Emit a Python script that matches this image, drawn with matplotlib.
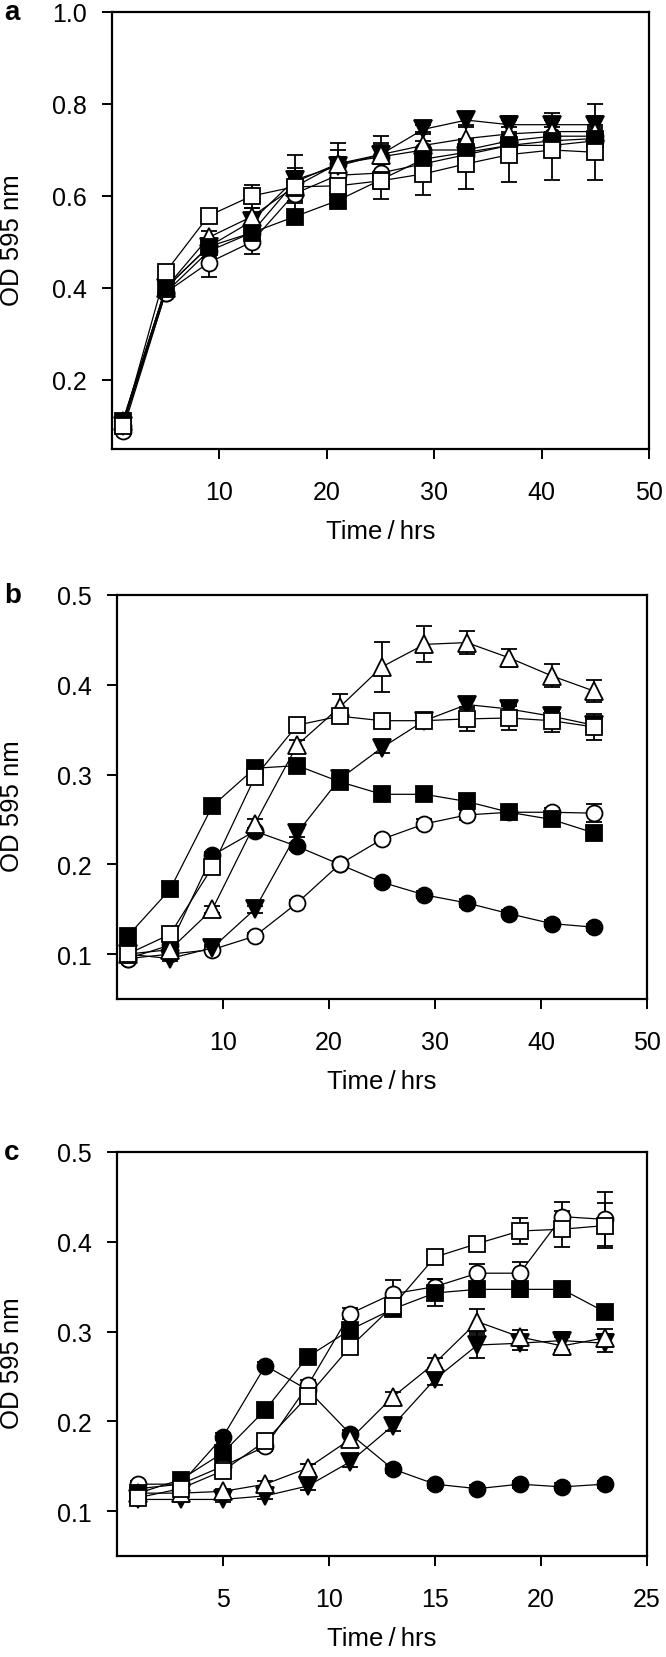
import matplotlib
matplotlib.use("Agg")
import matplotlib.pyplot as plt

plt.rcParams['font.family'] = ['Liberation Sans', 'DejaVu Sans']

# time points (hours)
time_ab = [1, 5, 9, 13, 17, 21, 25, 29, 33, 37, 41, 45]
time_c = [1, 3, 5, 7, 9, 11, 13, 15, 17, 19, 21, 23]

# panel a
a_fcircle = [0.10, 0.39, 0.48, 0.52, 0.63, 0.67, 0.685, 0.70, 0.70, 0.72, 0.73, 0.73]
a_ocircle = [0.09, 0.39, 0.455, 0.50, 0.605, 0.645, 0.65, 0.67, 0.69, 0.71, 0.71, 0.72]
a_ftri = [0.10, 0.40, 0.49, 0.545, 0.635, 0.665, 0.69, 0.745, 0.765, 0.755, 0.755, 0.755]
a_otri = [0.11, 0.40, 0.51, 0.555, 0.62, 0.67, 0.69, 0.71, 0.725, 0.735, 0.74, 0.74]
a_fsquare = [0.11, 0.40, 0.49, 0.52, 0.555, 0.59, 0.635, 0.68, 0.695, 0.71, 0.72, 0.725]
a_osquare = [0.10, 0.435, 0.557, 0.60, 0.62, 0.622, 0.633, 0.648, 0.67, 0.69, 0.70, 0.695]
a_err = [
    [0.005, 0.01, 0.015, 0.02, 0.03, 0.03, 0.03, 0.02, 0.02, 0.02, 0.02, 0.02],
    [0.005, 0.01, 0.03, 0.025, 0.02, 0.02, 0.02, 0.02, 0.02, 0.02, 0.02, 0.02],
    [0.005, 0.01, 0.01, 0.015, 0.02, 0.02, 0.02, 0.01, 0.015, 0.02, 0.025, 0.045],
    [0.005, 0.01, 0.015, 0.02, 0.07, 0.045, 0.04, 0.03, 0.03, 0.03, 0.03, 0.035],
    [0.005, 0.01, 0.01, 0.01, 0.015, 0.01, 0.02, 0.02, 0.02, 0.02, 0.02, 0.02],
    [0.005, 0.01, 0.01, 0.025, 0.03, 0.03, 0.04, 0.045, 0.055, 0.06, 0.065, 0.06],
]

# panel b
b_fcircle = [0.095, 0.11, 0.21, 0.237, 0.22, 0.20, 0.18, 0.166, 0.157, 0.145, 0.134, 0.13]
b_ocircle = [0.095, 0.10, 0.105, 0.12, 0.157, 0.20, 0.228, 0.245, 0.255, 0.258, 0.258, 0.257]
b_ftri = [0.10, 0.095, 0.107, 0.15, 0.235, 0.295, 0.33, 0.36, 0.378, 0.373, 0.365, 0.355]
b_otri = [0.10, 0.105, 0.15, 0.245, 0.333, 0.375, 0.42, 0.445, 0.447, 0.43, 0.41, 0.393]
b_fsquare = [0.12, 0.172, 0.265, 0.307, 0.31, 0.292, 0.278, 0.278, 0.27, 0.258, 0.25, 0.235]
b_osquare = [0.10, 0.122, 0.197, 0.297, 0.355, 0.365, 0.36, 0.36, 0.362, 0.363, 0.36, 0.353]
b_err = [
    [0.004] * 12,
    [0.003, 0.003, 0.003, 0.003, 0.003, 0.003, 0.004, 0.005, 0.006, 0.005, 0.005, 0.01],
    [0.003, 0.003, 0.003, 0.004, 0.005, 0.005, 0.006, 0.005, 0.005, 0.005, 0.006, 0.006],
    [0.003, 0.003, 0.004, 0.005, 0.006, 0.015, 0.028, 0.02, 0.013, 0.01, 0.013, 0.012],
    [0.004, 0.005, 0.005, 0.004, 0.005, 0.005, 0.004, 0.004, 0.005, 0.004, 0.005, 0.005],
    [0.003, 0.004, 0.005, 0.005, 0.004, 0.007, 0.005, 0.004, 0.013, 0.013, 0.013, 0.015],
]

# panel c
c_fcircle = [0.125, 0.13, 0.183, 0.262, 0.235, 0.186, 0.147, 0.13, 0.125, 0.13, 0.127, 0.13]
c_ocircle = [0.13, 0.13, 0.15, 0.172, 0.24, 0.32, 0.342, 0.35, 0.365, 0.365, 0.428, 0.425]
c_ftri = [0.113, 0.113, 0.113, 0.117, 0.128, 0.155, 0.195, 0.247, 0.285, 0.287, 0.29, 0.287]
c_otri = [0.12, 0.12, 0.122, 0.13, 0.148, 0.18, 0.227, 0.265, 0.311, 0.294, 0.284, 0.293]
c_fsquare = [0.12, 0.135, 0.165, 0.213, 0.272, 0.302, 0.325, 0.343, 0.347, 0.347, 0.347, 0.322]
c_osquare = [0.115, 0.125, 0.145, 0.178, 0.228, 0.283, 0.328, 0.383, 0.398, 0.412, 0.414, 0.418]
c_err = [
    [0.004] * 12,
    [0.004, 0.004, 0.005, 0.005, 0.006, 0.006, 0.015, 0.008, 0.01, 0.012, 0.016, 0.03],
    [0.003, 0.003, 0.003, 0.004, 0.005, 0.006, 0.006, 0.006, 0.015, 0.008, 0.01, 0.01],
    [0.003, 0.003, 0.003, 0.004, 0.005, 0.006, 0.006, 0.006, 0.014, 0.008, 0.01, 0.01],
    [0.004, 0.004, 0.005, 0.006, 0.006, 0.006, 0.006, 0.015, 0.008, 0.008, 0.008, 0.008],
    [0.004, 0.004, 0.005, 0.006, 0.006, 0.006, 0.006, 0.006, 0.006, 0.015, 0.02, 0.025],
]

styles = [('o', 'black'), ('o', 'white'), ('v', 'black'),
          ('^', 'white'), ('s', 'black'), ('s', 'white')]

panels = [
    ('a', time_ab, [a_fcircle, a_ocircle, a_ftri, a_otri, a_fsquare, a_osquare], a_err,
     (0.05, 1.0), [0.2, 0.4, 0.6, 0.8, 1.0], (0, 50), [10, 20, 30, 40, 50],
     [112 / 666, 1 - 450 / 1658, 537 / 666, 437 / 1658]),
    ('b', time_ab, [b_fcircle, b_ocircle, b_ftri, b_otri, b_fsquare, b_osquare], b_err,
     (0.05, 0.5), [0.1, 0.2, 0.3, 0.4, 0.5], (0, 50), [10, 20, 30, 40, 50],
     [117 / 666, 1 - 1000 / 1658, 530 / 666, 404 / 1658]),
    ('c', time_c, [c_fcircle, c_ocircle, c_ftri, c_otri, c_fsquare, c_osquare], c_err,
     (0.05, 0.5), [0.1, 0.2, 0.3, 0.4, 0.5], (0, 25), [5, 10, 15, 20, 25],
     [117 / 666, 1 - 1557 / 1658, 530 / 666, 404 / 1658]),
]

fig = plt.figure(figsize=(6.66, 16.58), dpi=100)

for letter, t, series, errs, ylim, yticks, xlim, xticks, rect in panels:
    ax = fig.add_axes(rect)
    w_px = rect[2] * 666
    h_px = rect[3] * 1658
    for (marker, face), y, e in zip(styles, series, errs):
        ms = 11.5 if marker in ('o', 's') else 12.5
        ax.errorbar(t, y, yerr=e, fmt='-', color='black', lw=0.9,
                    marker=marker, ms=ms, mfc=face, mec='black', mew=1.3,
                    ecolor='black', elinewidth=1.3, capsize=6, capthick=1.3)
    ax.set_xlim(*xlim)
    ax.set_ylim(*ylim)
    ax.set_xticks(xticks)
    ax.set_yticks(yticks)
    ax.set_yticklabels(['%.1f' % v for v in yticks])
    ax.tick_params(direction='out', length=7, width=1.4, labelsize=18)
    ax.tick_params(axis='x', pad=15)
    ax.tick_params(axis='y', pad=11)
    for sp in ax.spines.values():
        sp.set_linewidth(1.6)
    ax.set_xlabel('Time\u2009/\u2009hrs', fontsize=18.5)
    ax.xaxis.set_label_coords(0.5, -70 / h_px)
    ax.set_ylabel('OD 595 nm', fontsize=18.5)
    ax.yaxis.set_label_coords(-(rect[0] * 666 - 24) / w_px, 0.48)
    ax.text(-(rect[0] * 666 - 4) / w_px, 1.0, letter, transform=ax.transAxes,
            fontsize=20, fontweight='bold', ha='left', va='center')

fig.savefig('out.png', dpi=100)
